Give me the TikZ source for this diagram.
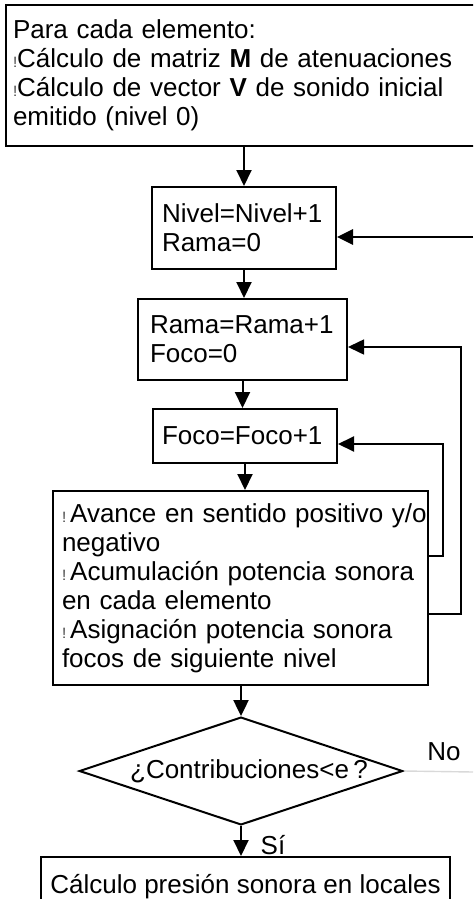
\documentclass[tikz,border=0pt]{standalone}
\usepackage{fontspec}
\setmainfont{Liberation Sans}
\usetikzlibrary{arrows.meta,shapes.geometric}
\newcommand{\vin}{{\color{black!75}\fontsize{7.5}{7.5}\selectfont !}}
\begin{document}
\begin{tikzpicture}[x=0.5pt,y=-0.5pt,
    font=\fontsize{13}{14.5}\selectfont,
    caja/.style={draw,line width=1pt,rectangle,align=left,inner ysep=0pt},
    flecha/.style={line width=1pt,-{Triangle[length=8pt,width=7.5pt]}},
    lazo/.style={line width=1pt}]
    \clip (0,0) rectangle (473,899);

    % Bloques
    \node[caja,text width=233pt,inner xsep=3.5pt,minimum height=70.5pt] (ini) at (246,75.5)
        {Para cada elemento:\\
         \vin C\'alculo de matriz \textbf{M} de atenuaciones\\
         \vin C\'alculo de vector \textbf{V} de sonido inicial\\
         emitido (nivel 0)};
    \node[caja,text width=82pt,inner xsep=5pt,minimum height=41pt] (nivel) at (244,228)
        {Nivel=Nivel+1\\ Rama=0};
    \node[caja,text width=92.5pt,inner xsep=6pt,minimum height=40.5pt] (rama) at (242.5,339.5)
        {Rama=Rama+1\\ Foco=0};
    \node[caja,text width=83pt,inner xsep=4.5pt,minimum height=27pt] (foco) at (245,436)
        {Foco=Foco+1};
    \node[caja,text width=178.5pt,inner xsep=4.5pt,minimum height=97pt] (avance) at (240.5,588)
        {\makebox[178.5pt][l]{\vin\kern2pt Avance en sentido positivo y/o}\\
         negativo\\
         \makebox[178.5pt][s]{\vin\kern2pt Acumulaci\'on potencia sonora}\\
         en cada elemento\\
         \makebox[178.5pt][s]{\vin\kern2pt Asignaci\'on potencia sonora}\\
         focos de siguiente nivel};
    \node[draw,line width=1pt,diamond,aspect=3,inner sep=0pt,
          minimum width=160pt,minimum height=53.5pt] (decision) at (241,771)
        {\kern8pt\textquestiondown Contribuciones<e\,?};
    \node[caja,align=center,minimum width=204.5pt,minimum height=30pt] (fin) at (245.5,887)
        {C\'alculo presi\'on sonora en locales};

    % Flechas principales
    \draw[flecha] (ini.south -| nivel) -- (nivel.north);
    \draw[flecha] (nivel.south) -- (nivel.south |- rama.north);
    \draw[flecha] (rama.south) -- (rama.south |- foco.north);
    \draw[flecha] (foco.south) -- (foco.south |- avance.north);
    \draw[flecha] (avance.south -| decision.north) -- (decision.north);
    \draw[flecha] (decision.south) -- (decision.south |- fin.north)
        node[midway,right,xshift=6pt,yshift=-2pt] {S\'i};

    % Lazos de vuelta
    \coordinate (c1) at (443,556);
    \coordinate (c2) at (461,614);
    \coordinate (ret) at (473,237);
    \draw[lazo,flecha] (avance.east |- c1) -- (c1) |- ([yshift=-4pt]foco.east);
    \draw[lazo,flecha,line width=0.8pt] (avance.east |- c2) -- (c2) |- ([yshift=-3.75pt]rama.east);
    \draw[flecha,line width=1.4pt] (ret) -- (nivel.east |- ret);

    % Salida negativa
    \coordinate (no) at (473,772);
    \draw[gray!30,line width=0.7pt] (decision.east) -- (no);
    \node (etiqno) at (444,752) {No};
\end{tikzpicture}
\end{document}
